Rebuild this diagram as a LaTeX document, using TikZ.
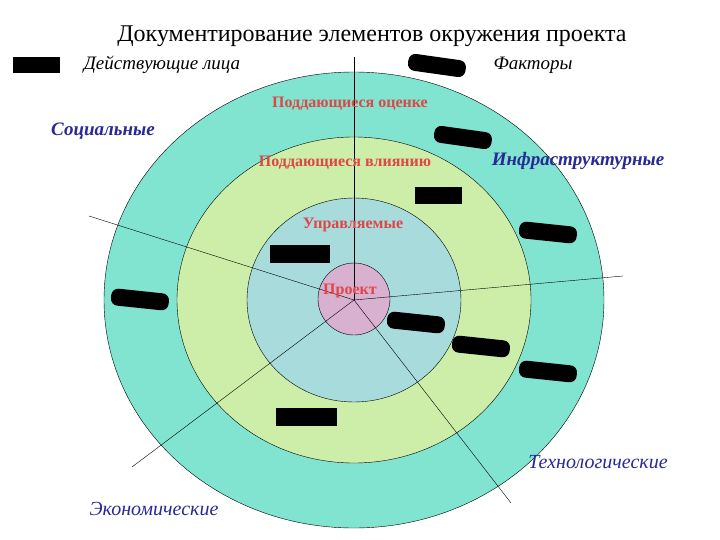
\documentclass[tikz,border=0pt]{standalone}
\usepackage{fontspec}
\setmainfont{Liberation Serif}
\begin{document}
\begin{tikzpicture}[x=1pt,y=-1pt,
  red/.style={text={rgb,255:red,224;green,70;blue,70}, font=\fontsize{16}{16}\selectfont\bfseries},
  blue/.style={text={rgb,255:red,40;green,40;blue,150}, font=\fontsize{19}{19}\selectfont\bfseries\itshape},
  blueb/.style={text={rgb,255:red,40;green,40;blue,150}, font=\fontsize{20}{20}\selectfont\itshape},
  leg/.style={font=\fontsize{19}{19}\selectfont\itshape},
  blob/.style={fill=black, rounded corners=7pt},
  bar/.style={fill=black}]
\useasboundingbox (0,0) rectangle (720,540);
\filldraw[fill={rgb,255:red,128;green,228;blue,208}, draw=black] (354,300) ellipse [x radius=250, y radius=228];
\filldraw[fill={rgb,255:red,204;green,238;blue,168}, draw=black] (354,300) ellipse [x radius=177, y radius=163];
\filldraw[fill={rgb,255:red,168;green,220;blue,220}, draw=black] (354,300) ellipse [x radius=107, y radius=102];
\filldraw[fill={rgb,255:red,216;green,176;blue,208}, draw=black] (354,299) circle [radius=36];
\coordinate (c) at (354,300);
\coordinate (t) at (354,57);
\coordinate (l) at (89,216);
\coordinate (r) at (623,276);
\coordinate (ll) at (132,467);
\coordinate (lr) at (511,503);
\foreach \p in {t,l,r,ll,lr} \draw (c) -- (\p);
\node (title) at (372,36) {\fontsize{24}{24}\selectfont Документирование элементов окружения проекта};
\node[leg] (act) at (162,65) {Действующие лица};
\node[leg] (fac) at (533,65) {Факторы};
\node[red] (o1) at (350,104) {Поддающиеся оценке};
\node[red] (o2) at (345,163) {Поддающиеся влиянию};
\node[red] (o3) at (353,225) {Управляемые};
\node[red] (o4) at (350,291) {Проект};
\node[blue] (s1) at (103,131) {Социальные};
\node[blue] (s2) at (578,161) {Инфраструктурные};
\node[blueb] (s3) at (598,462) {Технологические};
\node[blueb] (s4) at (154,509) {Экономические};
\fill[bar] (13,57) rectangle (60,73);
\fill[bar] (415,187) rectangle (462,204);
\fill[bar] (270,245) rectangle (330,263);
\fill[bar] (276,408) rectangle (337,426);
\foreach \x/\y/\a in {437/65/-8, 463/137/-8, 548/232/-6, 140/299/-6, 416/322/-6, 481/346/-6, 548/371/-6}
  \fill[blob, rotate around={\a:(\x,\y)}] (\x-29,\y-8) rectangle (\x+29,\y+9);
\end{tikzpicture}
\end{document}
